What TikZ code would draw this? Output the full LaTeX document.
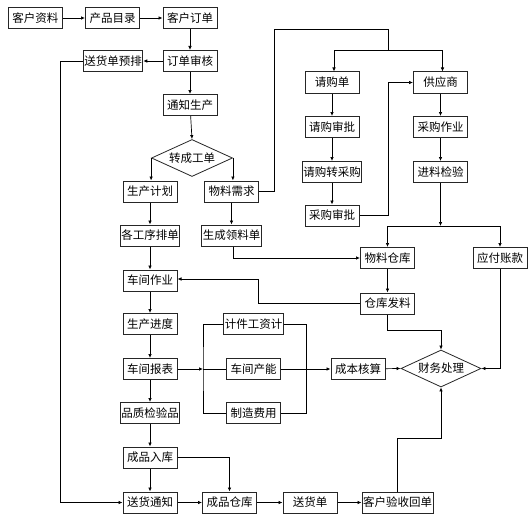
\documentclass[tikz,border=0pt]{standalone}
\usepackage{fontspec}
\newfontfamily\cjk{Noto Sans CJK SC}
\usetikzlibrary{arrows.meta,shapes.geometric}

\begin{document}
\begin{tikzpicture}[x=1pt, y=-1pt, font=\cjk\fontsize{11.5}{13}\selectfont,
  box/.style={draw=black!85, line width=1pt, fill=white, minimum width=54pt, minimum height=21pt, inner sep=1pt},
  dia/.style={diamond, draw=black!85, line width=0.8pt, fill=white, aspect=2.2, minimum width=81pt, minimum height=37pt, inner sep=0pt},
  arr/.style={-{Latex[length=4pt,width=3.5pt]}, line width=0.7pt},
  ln/.style={line width=0.7pt}]
\useasboundingbox (0,0) rectangle (530,519);

% top row
\node[box] (khzl) at (35.5,18) {客户资料};
\node[box] (cpml) at (112.5,18) {产品目录};
\node[box] (khdd) at (190,18) {客户订单};
\node[box] (ddsh) at (190,61) {订单审核};
\node[box, minimum width=56pt] (shdyp) at (113,61) {送货单预排};
\node[box] (tzsc) at (190,105) {通知生产};
\node[dia] (zcgd) at (192,158) {转成工单};

% production column
\node[box] (scjh) at (150,191.5) {生产计划};
\node[box] (gcxpd) at (150,235.5) {各工序排单};
\node[box] (cjzy) at (150,280.5) {车间作业};
\node[box] (scjd) at (150,324) {生产进度};
\node[box] (cjbb) at (150,369) {车间报表};
\node[box] (pzjyp) at (150,413) {品质检验品};
\node[box] (cprk) at (150,457.5) {成品入库};
\node[box] (shtz) at (150,502.5) {送货通知};
\node[box] (cpck) at (229.5,502.5) {成品仓库};
\node[box] (shd) at (310,502.5) {送货单};
\node[box, minimum width=71pt] (khysh) at (397.5,502.5) {客户验收回单};

\node[box] (wlxq) at (231.5,191.5) {物料需求};
\node[box] (scllld) at (231.5,235.5) {生成领料单};

% cost
\node[box] (jjgz) at (253.5,324) {计件工资计};
\node[box] (cjcn) at (253.5,369) {车间产能};
\node[box] (zzfy) at (253.5,413) {制造费用};
\node[box] (cbhs) at (358,369) {成本核算};
\node[dia, minimum width=80pt] (cwcl) at (441,368.5) {财务处理};

% purchasing
\node[box] (qgd) at (332,82.5) {请购单};
\node[box] (qgsp) at (332,127) {请购审批};
\node[box] (qgzcg) at (332,172) {请购转采购};
\node[box] (cgsp) at (332,215.5) {采购审批};
\node[box] (gys) at (440.5,82.5) {供应商};
\node[box] (cgzy) at (440.5,127) {采购作业};
\node[box] (jljy) at (440.5,172) {进料检验};
\node[box] (wlck) at (387.5,258) {物料仓库};
\node[box] (yfzk) at (500,258) {应付账款};
\node[box] (ckfl) at (387.5,303.5) {仓库发料};

\coordinate (up1) at (274,29);
\coordinate (split) at (388,50);
\coordinate (split2) at (440.5,226);
\coordinate (bus) at (203,369);

\draw[arr] (khzl) -- (cpml);
\draw[arr] (cpml) -- (khdd);
\draw[arr] (khdd) -- (ddsh);
\draw[arr] (ddsh) -- (shdyp);
\draw[arr] (ddsh) -- (tzsc);
\draw[arr] (tzsc) -- (zcgd.north);
\draw[arr] (shdyp.west) -- ++(-22,0) |- (shtz.west);
\draw[arr] (zcgd.west) -- (zcgd.west |- scjh.north);
\draw[arr] (zcgd.east) -- (zcgd.east |- wlxq.north);

\draw[arr] (scjh) -- (gcxpd);
\draw[arr] (gcxpd) -- (cjzy);
\draw[arr] (cjzy) -- (scjd);
\draw[arr] (scjd) -- (cjbb);
\draw[arr] (cjbb) -- (pzjyp);
\draw[arr] (pzjyp) -- (cprk);
\draw[arr] (cprk) -- (shtz);
\draw[arr] (shtz) -- (cpck);
\draw[arr] (cpck) -- (shd);
\draw[arr] (shd) -- (khysh);
\draw[arr] (cprk.east) -| (cpck.north);

\draw[arr] (wlxq) -- (scllld);
\draw[ln] (wlxq.east) -| (up1) -| (split);
\draw[arr] (split) -| ([xshift=2pt]qgd.north);
\draw[arr] (split) -| ([xshift=2pt]gys.north);
\draw[arr] (qgd) -- (qgsp);
\draw[arr] (qgsp) -- (qgzcg);
\draw[arr] (qgzcg) -- (cgsp);
\draw[arr] (cgsp.east) -- ++(29,0) |- (gys.west);
\draw[arr] (gys) -- (cgzy);
\draw[arr] (cgzy) -- (jljy);
\draw[arr] (jljy) -- (split2);
\draw[arr] (split2) -| (wlck.north);
\draw[arr] (split2) -| (yfzk.north);
\draw[arr] ([xshift=1.5pt]scllld.south) |- (wlck.west);
\draw[arr] (wlck) -- (ckfl);
\draw[arr] (ckfl.west) -- ++(-102,0) |- ([yshift=1.5pt]cjzy.east);
\draw[arr] (ckfl.south) -- ++(0,16) -| (cwcl.north);
\draw[arr] (yfzk.south) |- (cwcl.east);

\draw[arr] (cjbb.east) -- (bus);
\draw[ln] (bus) -- (cjcn.west);
\draw[ln] (jjgz.west) -| (bus) |- (zzfy.west);
\draw[ln] (jjgz.east) -- ++(23,0) |- (zzfy.east);
\draw[arr] (cjcn) -- (cbhs);
\draw[arr] (cbhs) -- (cwcl.west);
\draw[arr] (khysh.north) -- ++(0,-53) -| (cwcl.south);
\end{tikzpicture}
\end{document}
